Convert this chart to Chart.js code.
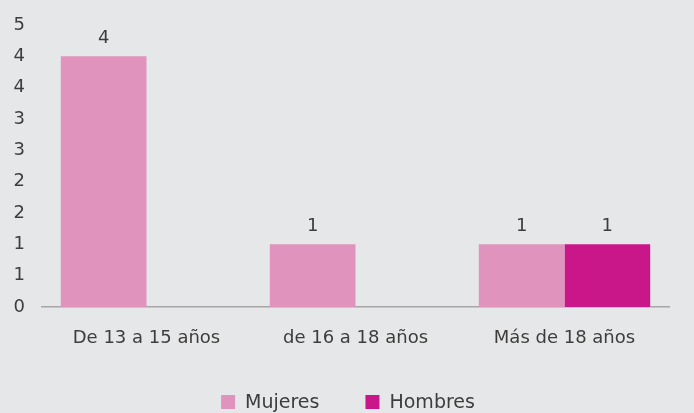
<!DOCTYPE html>
<html>
<head>
<meta charset="utf-8">
<script src="https://cdn.jsdelivr.net/npm/chart.js@4/dist/chart.umd.min.js"></script>
<style>
    html, body { margin: 0; padding: 0; background: #e6e7e8; }
    #wrap { width: 694px; height: 413px; }
</style>
</head>
<body>
<div id="wrap"><canvas id="chart" width="694" height="413"></canvas></div>
<script>
const CATEGORIES = ["De 13 a 15 años", "de 16 a 18 años", "Más de 18 años"];
const SERIES = ["Mujeres", "Hombres"];
const MUJERES = [4, 1, 1];
const HOMBRES = [null, null, 1];
const Y_MAX = 4.5;
const Y_STEP = 0.5;

const COLORS = ["#e094bd", "#c9178a"];
const TEXT = "#3d3d3d";
const FONT = "'DejaVu Sans', sans-serif";

// value labels above each bar
const barLabels = {
    id: "barLabels",
    afterDatasetsDraw(chart) {
        let ctx = chart.ctx;
        ctx.save();
        ctx.font = "18px " + FONT;
        ctx.fillStyle = TEXT;
        ctx.textAlign = "center";
        ctx.textBaseline = "bottom";
        chart.data.datasets.forEach((ds, i) => {
            chart.getDatasetMeta(i).data.forEach((bar, j) => {
                let v = ds.data[j];
                if (v === null) return;
                ctx.fillText(v, bar.x, bar.y - 9);
            });
        });
        ctx.restore();
    }
};

// legend drawn by hand so it can sit at the very bottom
const bottomLegend = {
    id: "bottomLegend",
    afterDraw(chart) {
        let ctx = chart.ctx;
        ctx.save();
        ctx.font = "19px " + FONT;
        ctx.textBaseline = "middle";
        let box = 14, gap = 10, between = 46, y = 402;
        let widths = chart.data.datasets.map(ds => box + gap + ctx.measureText(ds.label).width);
        let total = widths.reduce((a, b) => a + b, 0) + between * (widths.length - 1);
        let x = 348 - total / 2;
        chart.data.datasets.forEach((ds, i) => {
            ctx.fillStyle = ds.backgroundColor;
            ctx.fillRect(x, y - box / 2, box, box);
            ctx.fillStyle = TEXT;
            ctx.fillText(ds.label, x + box + gap, y + 1);
            x += widths[i] + between;
        });
        ctx.restore();
    }
};

new Chart(document.getElementById("chart"), {
    type: "bar",
    data: {
        labels: CATEGORIES,
        datasets: [
            { label: SERIES[0], data: MUJERES, backgroundColor: COLORS[0] },
            { label: SERIES[1], data: HOMBRES, backgroundColor: COLORS[1] }
        ]
    },
    options: {
        responsive: false,
        animation: false,
        layout: { padding: { top: 25, right: 25, left: 0, bottom: 56 } },
        datasets: { bar: { categoryPercentage: 0.82, barPercentage: 1 } },
        plugins: {
            legend: { display: false },
            tooltip: { enabled: false }
        },
        scales: {
            x: {
                grid: { display: false },
                border: { display: true, color: "#a6a6a6", width: 1.5 },
                ticks: { color: TEXT, font: { size: 18, family: FONT }, padding: 13 },
                afterFit(scale) { scale.height = 50; }
            },
            y: {
                min: 0, max: Y_MAX,
                grid: { display: false },
                border: { display: false },
                afterFit(scale) { scale.width = 42; },
                ticks: {
                    stepSize: Y_STEP, color: TEXT, padding: 9,
                    font: { size: 18, family: FONT },
                    callback: (v) => Math.round(v)
                }
            }
        }
    },
    plugins: [barLabels, bottomLegend]
});
</script>
</body>
</html>
